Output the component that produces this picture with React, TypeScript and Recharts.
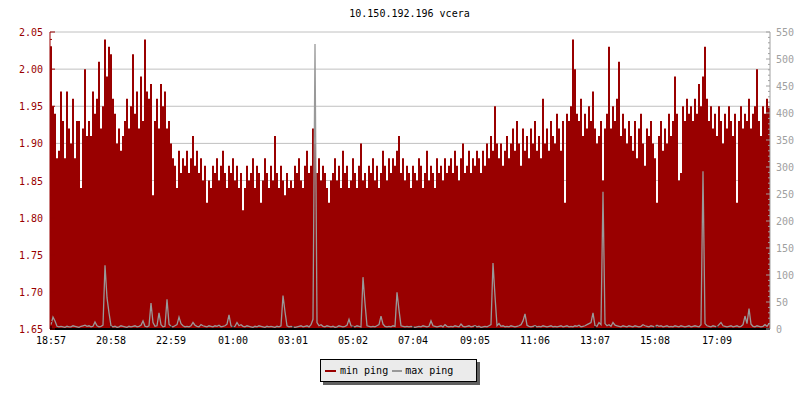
import { ComposedChart, Bar, Line, XAxis, YAxis, CartesianGrid, Legend } from "recharts"

const title = "10.150.192.196 vcera"

// one sample every 4 minutes, 18:57 -> 18:57 next day
const minPing = [
  2.03, 1.95, 1.94, 1.88, 1.89, 1.97, 1.93, 1.88, 1.97, 1.92,
  1.90, 1.96, 1.88, 1.93, 1.93, 1.84, 1.92, 2.00, 1.91, 1.93,
  1.91, 1.97, 1.94, 1.96, 2.01, 1.92, 1.95, 2.04, 1.99, 2.03,
  2.02, 1.96, 1.94, 1.90, 1.92, 1.89, 1.91, 1.93, 1.96, 1.92,
  1.95, 2.02, 1.94, 1.97, 1.92, 1.99, 1.93, 2.04, 1.97, 1.96,
  1.98, 1.83, 1.93, 1.96, 1.92, 1.98, 1.95, 1.97, 1.92, 1.93,
  1.90, 1.88, 1.87, 1.84, 1.89, 1.86, 1.88, 1.87, 1.89, 1.86,
  1.88, 1.91, 1.87, 1.89, 1.86, 1.88, 1.85, 1.87, 1.82, 1.85,
  1.84, 1.87, 1.86, 1.88, 1.85, 1.87, 1.89, 1.86, 1.84, 1.87,
  1.86, 1.88, 1.85, 1.87, 1.84, 1.86, 1.81, 1.84, 1.87, 1.85,
  1.86, 1.88, 1.84, 1.87, 1.86, 1.82, 1.85, 1.88, 1.86, 1.84,
  1.87, 1.85, 1.91, 1.86, 1.84, 1.87, 1.85, 1.83, 1.86, 1.84,
  1.85, 1.84, 1.87, 1.86, 1.88, 1.85, 1.84, 1.87, 1.89, 1.86,
  1.87, 1.92, 1.90, 1.86, 1.88, 1.85, 1.87, 1.86, 1.84, 1.82,
  1.85, 1.86, 1.88, 1.85, 1.87, 1.84, 1.89, 1.86, 1.87, 1.84,
  1.85, 1.88, 1.86, 1.84, 1.87, 1.90, 1.85, 1.86, 1.84, 1.87,
  1.86, 1.88, 1.85, 1.87, 1.84, 1.86, 1.89, 1.87, 1.85, 1.88,
  1.86, 1.88, 1.87, 1.89, 1.91, 1.86, 1.88, 1.85, 1.87, 1.86,
  1.84, 1.87, 1.86, 1.85, 1.88, 1.87, 1.84, 1.86, 1.89, 1.85,
  1.87, 1.86, 1.84, 1.88, 1.86, 1.87, 1.85, 1.88, 1.86, 1.87,
  1.88, 1.86, 1.89, 1.87, 1.85, 1.88, 1.90, 1.86, 1.87, 1.89,
  1.86, 1.88, 1.87, 1.89, 1.88, 1.86, 1.89, 1.87, 1.90, 1.88,
  1.91, 1.89, 1.95, 1.90, 1.88, 1.90, 1.87, 1.89, 1.91, 1.88,
  1.90, 1.92, 1.89, 1.93, 1.90, 1.87, 1.92, 1.89, 1.91, 1.88,
  1.92, 1.90, 1.93, 1.89, 1.91, 1.88, 1.96, 1.90, 1.92, 1.89,
  1.93, 1.91, 1.90, 1.94, 1.92, 1.89, 1.93, 1.82, 1.94, 1.93,
  1.95, 2.04, 2.00, 1.94, 1.93, 1.96, 1.91, 1.94, 1.92, 1.95,
  1.93, 1.97, 1.92, 1.90, 1.91, 1.93, 1.85, 1.92, 1.94, 2.03,
  1.92, 1.95, 1.93, 1.96, 2.01, 1.91, 1.94, 1.92, 1.90, 1.93,
  1.91, 1.89, 1.93, 1.88, 1.92, 1.94, 1.90, 1.87, 1.92, 1.91,
  1.93, 1.90, 1.88, 1.82, 1.91, 1.93, 1.89, 1.92, 1.90, 1.94,
  1.91, 1.93, 1.99, 1.94, 1.85, 1.86, 1.95, 1.93, 1.96, 1.94,
  1.95, 1.93, 1.96, 1.94, 1.98, 1.95, 1.99, 2.03, 1.96, 1.93,
  1.95, 1.92, 1.94, 1.91, 1.95, 1.93, 1.90, 1.94, 1.92, 1.95,
  1.93, 1.91, 1.94, 1.82, 1.93, 1.95, 1.92, 1.94, 1.93, 1.96,
  1.92, 1.94, 1.95, 2.00, 1.93, 1.91, 1.95, 1.94, 1.96, 1.95,
]

const maxPing = [
  8, 22, 15, 5, 4, 5, 4, 3, 5, 4,
  4, 6, 5, 4, 3, 5, 6, 7, 5, 6,
  4, 5, 13, 6, 4, 5, 7, 118, 58, 30,
  6, 4, 5, 3, 4, 6, 5, 4, 3, 5,
  4, 5, 6, 4, 5, 7, 15, 5, 4, 6,
  48, 12, 5, 6, 30, 8, 4, 5, 55, 9,
  5, 4, 6, 8, 22, 10, 6, 4, 5, 4,
  6, 12, 7, 5, 4, 8, 6, 5, 4, 6,
  5, 4, 6, 5, 7, 4, 5, 6, 9, 26,
  6, 4, 5, 12, 6, 8, 5, 4, 6, 5,
  4, 3, 5, 4, 6, 5, 4, 3, 5, 4,
  5, 4, 3, 5, 4, 6, 62, 32, 6, 4,
  5, 4, 3, 4, 5, 6, 4, 5, 6, 4,
  8, 18, 528, 12, 6, 8, 5, 4, 6, 5,
  4, 5, 3, 4, 6, 5, 4, 5, 7, 18,
  6, 5, 4, 6, 5, 4, 96, 48, 6, 5,
  4, 5, 4, 6, 8, 24, 9, 5, 4, 5,
  4, 6, 5, 68, 35, 6, 5, 4, 5, 4,
  5, 4, 3, 4, 5, 4, 6, 5, 4, 5,
  15, 6, 5, 4, 5, 6, 4, 8, 5, 4,
  5, 4, 6, 5, 4, 9, 5, 4, 5, 6,
  4, 5, 6, 4, 5, 3, 4, 5, 4, 6,
  8, 122, 61, 6, 10, 5, 6, 4, 5, 4,
  6, 5, 4, 5, 6, 8, 15, 28, 7, 5,
  4, 5, 6, 4, 5, 4, 6, 5, 4, 5,
  6, 4, 5, 4, 5, 6, 4, 5, 6, 4,
  5, 4, 6, 5, 7, 4, 5, 6, 8, 10,
  12, 30, 6, 5, 12, 8, 254, 10, 6, 8,
  5, 12, 7, 6, 5, 4, 6, 5, 4, 6,
  5, 4, 6, 5, 4, 5, 8, 6, 5, 4,
  6, 5, 4, 7, 5, 6, 4, 5, 6, 4,
  5, 4, 6, 5, 4, 6, 5, 4, 5, 6,
  4, 5, 6, 5, 4, 8, 292, 10, 6, 5,
  4, 6, 5, 4, 8, 12, 6, 5, 4, 5,
  6, 4, 5, 6, 4, 5, 8, 24, 10, 38,
  9, 5, 4, 6, 5, 4, 5, 8, 5, 10,
]

const timeLabels = ["18:57", "20:58", "22:59", "01:00", "03:01", "05:02", "07:04", "09:05", "11:06", "13:07", "15:08", "17:09"]
const timeTickIdx = [0, 30, 60, 91, 121, 151, 181, 212, 242, 272, 302, 333]

const leftMajor = [1.65, 1.7, 1.75, 1.8, 1.85, 1.9, 1.95, 2.0, 2.05]
const leftTicks = Array.from({ length: 41 }, (_, k) => Math.round((1.65 + k * 0.01) * 100) / 100)
const rightTicks = Array.from({ length: 56 }, (_, k) => k * 10)

const data = minPing.map((v, i) => ({ i, min: v, max: maxPing[i] }))

const RED = "#990000"
const GRAY = "#999999"
const AXIS_GRAY = "#a0a0a0"
const FONT = "DejaVu Sans Mono"

function LeftTick(props: any) {
  const { x, y, payload } = props
  const v = payload.value
  const major = leftMajor.some((m) => Math.abs(m - v) < 0.001)
  const ax = x + 7
  return (
    <g>
      <line x1={ax} x2={ax + (major ? 5 : 2)} y1={y} y2={y} stroke={RED} />
      {major && (
        <text x={x} y={y} dy={4} textAnchor="end" fill={RED} fontSize={10} fontFamily={FONT}>
          {v.toFixed(2)}
        </text>
      )}
    </g>
  )
}

function RightTick(props: any) {
  const { x, y, payload } = props
  const v = payload.value
  const major = v % 50 === 0
  const ax = x - 6
  return (
    <g>
      <line x1={ax} x2={ax - (major ? 4 : 2)} y1={y} y2={y} stroke={AXIS_GRAY} />
      {major && (
        <text x={x} y={y} dy={4} textAnchor="start" fill={AXIS_GRAY} fontSize={10} fontFamily={FONT}>
          {v}
        </text>
      )}
    </g>
  )
}

function TimeTick(props: any) {
  const { x, y, payload } = props
  const k = timeTickIdx.indexOf(payload.value)
  const ay = y - 6
  return (
    <g>
      <line x1={x} x2={x} y1={ay} y2={ay - 3} stroke="#000" />
      <text x={x} y={y} dy={9} textAnchor="middle" fill="#000" fontSize={10} fontFamily={FONT}>
        {timeLabels[k]}
      </text>
    </g>
  )
}

function LegendBox() {
  return (
    <div
      style={{
        width: 151,
        height: 21,
        border: "1px solid #000",
        background: "#ebebeb",
        boxShadow: "3px 3px 0 #606060",
        fontFamily: FONT,
        fontSize: 10,
        display: "flex",
        alignItems: "center",
        paddingLeft: 4,
        boxSizing: "content-box",
        marginLeft: -2,
      }}
    >
      <span style={{ display: "inline-block", width: 11, height: 2, background: RED, marginRight: 4 }} />
      <span style={{ marginRight: 4 }}>min ping</span>
      <span style={{ display: "inline-block", width: 10, height: 2, background: GRAY, marginRight: 3 }} />
      <span>max ping</span>
    </div>
  )
}

export default function App() {
  return (
    <div style={{ position: "absolute", left: 0, top: 0, width: 800, height: 400, background: "#fff" }}>
      <div
        style={{
          position: "absolute",
          left: 0,
          top: 9,
          width: 819,
          textAlign: "center",
          fontFamily: FONT,
          fontSize: 10,
          lineHeight: "10px",
          color: "#000",
        }}
      >
        {title}
      </div>
      <ComposedChart
        width={800}
        height={400}
        data={data}
        margin={{ top: 32, right: 0, left: 0, bottom: 51 }}
        barCategoryGap={0}
        barGap={0}
      >
        <CartesianGrid yAxisId="grid" vertical={false} stroke="#c0c0c0" />
        <Bar dataKey="min" name="min ping" yAxisId="left" fill={RED} isAnimationActive={false} />
        <Line
          dataKey="max"
          name="max ping"
          yAxisId="right"
          type="linear"
          stroke={GRAY}
          strokeWidth={1.3}
          dot={false}
          isAnimationActive={false}
        />
        <YAxis
          yAxisId="left"
          type="number"
          width={50}
          domain={[1.65, 2.05]}
          ticks={leftTicks}
          interval={0}
          allowDataOverflow
          axisLine={{ stroke: RED }}
          tickLine={false}
          tickSize={0}
          tickMargin={7}
          tick={<LeftTick />}
        />
        <YAxis
          yAxisId="right"
          orientation="right"
          type="number"
          width={30}
          domain={[0, 550]}
          ticks={rightTicks}
          interval={0}
          allowDataOverflow
          axisLine={{ stroke: AXIS_GRAY }}
          tickLine={false}
          tickSize={0}
          tickMargin={6}
          tick={<RightTick />}
        />
        <YAxis
          yAxisId="grid"
          orientation="right"
          hide
          width={0}
          type="number"
          domain={[1.65, 2.05]}
          ticks={leftMajor}
          allowDataOverflow
        />
        <XAxis
          dataKey="i"
          height={20}
          ticks={timeTickIdx}
          interval={0}
          axisLine={{ stroke: "#000", strokeWidth: 2 }}
          tickLine={false}
          tickSize={0}
          tickMargin={6}
          tick={<TimeTick />}
        />
        <Legend
          layout="horizontal"
          verticalAlign="middle"
          align="center"
          wrapperStyle={{ position: "absolute", left: 322, top: 359, width: 160, height: 26 }}
          content={() => <LegendBox />}
        />
      </ComposedChart>
    </div>
  )
}
